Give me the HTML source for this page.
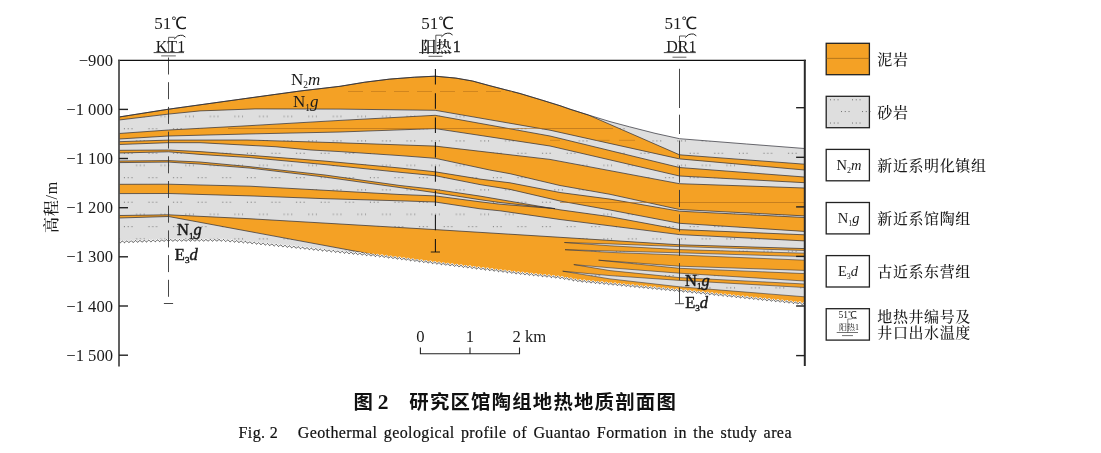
<!DOCTYPE html>
<html lang="zh"><head><meta charset="utf-8"><title>图2 研究区馆陶组地热地质剖面图</title>
<style>html,body{margin:0;padding:0;background:#fff}svg{display:block}</style></head>
<body>
<svg width="1101" height="453" viewBox="0 0 1101 453">
<defs>
<pattern id="dots" patternUnits="userSpaceOnUse" x="0" y="0" width="24.60" height="24.48">
<rect x="13.20" y="18.11" width="0.85" height="0.85" fill="#444"/><rect x="17.00" y="18.11" width="0.85" height="0.85" fill="#444"/><rect x="20.80" y="18.11" width="0.85" height="0.85" fill="#444"/>
<rect x="0.90" y="5.87" width="0.85" height="0.85" fill="#444"/><rect x="4.70" y="5.87" width="0.85" height="0.85" fill="#444"/><rect x="8.50" y="5.87" width="0.85" height="0.85" fill="#444"/>
<rect x="-11.40" y="18.11" width="0.85" height="0.85" fill="#444"/><rect x="-7.60" y="18.11" width="0.85" height="0.85" fill="#444"/><rect x="-3.80" y="18.11" width="0.85" height="0.85" fill="#444"/>
<rect x="-23.70" y="5.87" width="0.85" height="0.85" fill="#444"/><rect x="-19.90" y="5.87" width="0.85" height="0.85" fill="#444"/><rect x="-16.10" y="5.87" width="0.85" height="0.85" fill="#444"/>
<rect x="37.80" y="18.11" width="0.85" height="0.85" fill="#444"/><rect x="41.60" y="18.11" width="0.85" height="0.85" fill="#444"/><rect x="45.40" y="18.11" width="0.85" height="0.85" fill="#444"/>
<rect x="25.50" y="5.87" width="0.85" height="0.85" fill="#444"/><rect x="29.30" y="5.87" width="0.85" height="0.85" fill="#444"/><rect x="33.10" y="5.87" width="0.85" height="0.85" fill="#444"/>
</pattern>
<clipPath id="plotclip"><rect x="119.0" y="60" width="685.9" height="300"/></clipPath>
</defs>
<rect width="1101" height="453" fill="#fff"/>
<g clip-path="url(#plotclip)">
<polygon points="119.0,117.0 168.5,109.2 247.0,98.3 300.0,91.0 340.0,86.3 364.8,82.2 389.7,79.1 414.5,77.2 435.2,76.2 455.9,78.1 472.5,81.0 489.0,85.5 505.6,89.8 520.0,93.5 541.6,100.0 560.0,105.7 570.0,109.2 588.4,115.0 610.0,121.6 629.5,126.8 655.0,133.3 679.5,138.7 746.6,144.0 804.6,148.5 804.6,303.8 679.5,290.7 580.0,281.0 560.0,277.6 516.6,273.0 435.0,263.0 384.0,256.5 331.0,251.0 287.0,246.4 247.0,242.3 222.0,240.3 168.5,240.4 119.0,242.0" fill="#DEDEDE"/>
<polygon points="119.0,117.0 168.5,109.2 247.0,98.3 300.0,91.0 340.0,86.3 364.8,82.2 389.7,79.1 414.5,77.2 435.2,76.2 455.9,78.1 472.5,81.0 489.0,85.5 505.6,89.8 520.0,93.5 541.6,100.0 560.0,105.7 570.0,109.2 588.4,115.0 610.0,121.6 629.5,126.8 655.0,133.3 679.5,138.7 746.6,144.0 804.6,148.5 804.6,303.8 679.5,290.7 580.0,281.0 560.0,277.6 516.6,273.0 435.0,263.0 384.0,256.5 331.0,251.0 287.0,246.4 247.0,242.3 222.0,240.3 168.5,240.4 119.0,242.0" fill="url(#dots)"/>
<polygon points="119.0,117.0 168.5,109.2 247.0,98.3 300.0,91.0 340.0,86.3 364.8,82.2 389.7,79.1 414.5,77.2 435.2,76.2 455.9,78.1 472.5,81.0 489.0,85.5 505.6,89.8 520.0,93.5 541.6,100.0 560.0,105.7 570.0,109.2 588.4,115.0 679.5,154.8 804.6,164.2 804.6,170.0 679.5,158.9 550.0,130.2 435.2,110.3 340.0,109.1 255.0,108.9 200.0,110.9 168.5,114.1 119.0,120.0" fill="#F4A125" stroke="#2b2b33" stroke-width="0.7" stroke-linejoin="round"/>
<polygon points="119.0,133.5 168.5,130.0 247.0,125.8 340.0,120.4 435.2,115.3 550.0,136.0 679.5,167.5 804.6,177.0 804.6,182.7 679.5,176.0 550.0,146.0 435.2,128.6 340.0,132.0 247.0,134.0 168.5,136.0 119.0,139.0" fill="#F4A125" stroke="#2b2b33" stroke-width="0.7" stroke-linejoin="round"/>
<polygon points="119.0,141.7 168.5,140.1 247.0,140.0 340.0,142.8 435.2,146.1 550.0,159.4 679.5,183.7 804.6,188.0 804.6,215.9 679.5,209.5 610.0,194.3 560.0,185.5 510.0,173.7 489.7,170.0 435.2,158.3 400.0,155.6 340.0,151.6 311.0,150.0 275.0,146.7 200.0,142.7 168.5,142.7 119.0,144.5" fill="#F4A125" stroke="#2b2b33" stroke-width="0.7" stroke-linejoin="round"/>
<polygon points="119.0,150.3 168.5,150.0 200.0,151.6 250.0,155.3 325.0,161.1 400.0,168.0 435.2,171.8 480.0,179.1 510.0,182.8 560.0,192.5 610.0,199.1 679.5,211.2 804.6,217.5 804.6,231.4 679.5,223.3 610.0,210.0 560.0,201.0 510.0,189.4 480.0,184.6 435.2,175.7 400.0,172.3 325.0,164.6 250.0,157.6 200.0,154.4 168.5,151.8 119.0,153.0" fill="#F4A125" stroke="#2b2b33" stroke-width="0.7" stroke-linejoin="round"/>
<polygon points="119.0,161.0 168.5,160.6 200.0,162.0 250.0,166.7 325.0,175.0 400.0,185.5 435.2,189.4 480.0,196.1 560.0,209.8 610.0,216.7 679.5,229.6 804.6,234.8 804.6,240.9 679.5,234.6 560.0,219.5 500.0,210.8 480.0,208.8 435.2,202.0 400.0,200.8 325.0,198.7 250.0,195.9 168.5,193.5 119.0,193.6" fill="#F4A125" stroke="#2b2b33" stroke-width="0.7" stroke-linejoin="round"/>
<polygon points="119.0,162.6 168.5,162.1 200.0,164.1 250.0,168.1 325.0,177.1 400.0,187.6 435.2,192.7 480.0,199.7 500.0,202.5 555.0,208.6 555.0,208.6 500.0,204.2 480.0,201.8 435.2,195.9 400.0,194.5 325.0,190.3 250.0,186.2 168.5,184.2 119.0,184.3" fill="#DEDEDE" stroke="#2b2b33" stroke-width="0.7" stroke-linejoin="round"/>
<polygon points="119.0,162.6 168.5,162.1 200.0,164.1 250.0,168.1 325.0,177.1 400.0,187.6 435.2,192.7 480.0,199.7 500.0,202.5 555.0,208.6 555.0,208.6 500.0,204.2 480.0,201.8 435.2,195.9 400.0,194.5 325.0,190.3 250.0,186.2 168.5,184.2 119.0,184.3" fill="url(#dots)"/>
<polygon points="119.0,215.5 168.5,214.8 247.0,218.6 340.0,224.0 435.2,229.6 560.0,237.3 679.5,244.8 804.6,248.6 804.6,303.8 679.5,290.7 580.0,281.0 560.0,277.6 516.6,273.0 435.0,263.0 384.0,256.5 383.0,256.3 168.5,216.5 119.0,218.0" fill="#F4A125" stroke="#2b2b33" stroke-width="0.7" stroke-linejoin="round"/>
<polygon points="564.4,242.5 610.0,243.9 679.5,246.6 804.6,250.5 804.6,253.2 679.5,249.6 610.0,245.8 564.4,242.5" fill="#DEDEDE" stroke="#2b2b33" stroke-width="0.55" stroke-linejoin="round"/>
<polygon points="564.4,242.5 610.0,243.9 679.5,246.6 804.6,250.5 804.6,253.2 679.5,249.6 610.0,245.8 564.4,242.5" fill="url(#dots)"/>
<polygon points="565.0,249.7 610.0,251.0 679.5,252.8 804.6,256.6 804.6,260.2 679.5,255.0 610.0,252.4 565.0,249.7" fill="#DEDEDE" stroke="#2b2b33" stroke-width="0.55" stroke-linejoin="round"/>
<polygon points="565.0,249.7 610.0,251.0 679.5,252.8 804.6,256.6 804.6,260.2 679.5,255.0 610.0,252.4 565.0,249.7" fill="url(#dots)"/>
<polygon points="598.6,260.2 679.5,266.2 804.6,270.4 804.6,273.6 679.5,268.3 598.6,260.2" fill="#DEDEDE" stroke="#2b2b33" stroke-width="0.55" stroke-linejoin="round"/>
<polygon points="598.6,260.2 679.5,266.2 804.6,270.4 804.6,273.6 679.5,268.3 598.6,260.2" fill="url(#dots)"/>
<polygon points="573.8,264.6 610.0,267.8 679.5,273.2 804.6,281.0 804.6,284.0 679.5,277.6 610.0,270.6 573.8,264.6" fill="#DEDEDE" stroke="#2b2b33" stroke-width="0.55" stroke-linejoin="round"/>
<polygon points="573.8,264.6 610.0,267.8 679.5,273.2 804.6,281.0 804.6,284.0 679.5,277.6 610.0,270.6 573.8,264.6" fill="url(#dots)"/>
<polygon points="562.7,271.2 610.0,275.6 679.5,280.4 804.6,287.5 804.6,296.8 679.5,286.8 610.0,278.9 562.7,271.2" fill="#DEDEDE" stroke="#2b2b33" stroke-width="0.55" stroke-linejoin="round"/>
<polygon points="562.7,271.2 610.0,275.6 679.5,280.4 804.6,287.5 804.6,296.8 679.5,286.8 610.0,278.9 562.7,271.2" fill="url(#dots)"/>
<polyline points="119.0,117.0 168.5,109.2 247.0,98.3 300.0,91.0 340.0,86.3 364.8,82.2 389.7,79.1 414.5,77.2 435.2,76.2 455.9,78.1 472.5,81.0 489.0,85.5 505.6,89.8 520.0,93.5 541.6,100.0 560.0,105.7 570.0,109.2 588.4,115.0 610.0,121.6 629.5,126.8 655.0,133.3 679.5,138.7 746.6,144.0 804.6,148.5" fill="none" stroke="#2b2b33" stroke-width="0.7" stroke-linejoin="round"/>
<polyline points="119.0,242.0 119.6,242.6 120.1,242.9 120.7,242.6 121.2,241.9 121.8,241.3 122.3,241.0 122.9,241.2 123.4,241.9 124.0,242.5 124.5,242.7 125.1,242.4 125.6,241.8 126.2,241.1 126.7,240.9 127.3,241.1 127.8,241.7 128.4,242.3 128.9,242.6 129.5,242.3 130.0,241.6 130.6,241.0 131.1,240.7 131.7,241.0 132.2,241.6 132.8,242.2 133.3,242.4 133.9,242.2 134.4,241.5 135.0,240.8 135.5,240.6 136.1,240.8 136.6,241.4 137.2,242.1 137.7,242.3 138.3,242.0 138.8,241.3 139.4,240.7 139.9,240.4 140.5,240.7 141.0,241.3 141.6,241.9 142.1,242.2 142.7,241.9 143.2,241.2 143.8,240.6 144.3,240.3 144.9,240.5 145.4,241.2 146.0,241.8 146.5,242.0 147.1,241.7 147.6,241.1 148.2,240.4 148.7,240.1 149.3,240.4 149.8,241.0 150.4,241.6 150.9,241.9 151.5,241.6 152.0,240.9 152.6,240.3 153.1,240.0 153.7,240.3 154.2,240.9 154.8,241.5 155.3,241.7 155.9,241.4 156.4,240.8 157.0,240.1 157.5,239.9 158.1,240.1 158.6,240.7 159.2,241.4 159.7,241.6 160.3,241.3 160.8,240.6 161.4,240.0 161.9,239.7 162.5,240.0 163.0,240.6 163.6,241.2 164.1,241.4 164.7,241.1 165.2,240.5 165.8,239.8 166.3,239.6 166.9,239.8 167.4,240.5 168.0,241.1 168.5,241.3 169.1,241.0 169.6,240.4 170.2,239.7 170.7,239.5 171.3,239.8 171.8,240.4 172.4,241.1 172.9,241.3 173.5,241.0 174.0,240.4 174.6,239.7 175.1,239.5 175.7,239.8 176.2,240.4 176.8,241.0 177.3,241.3 177.9,241.0 178.4,240.3 179.0,239.7 179.5,239.5 180.1,239.8 180.6,240.4 181.2,241.0 181.7,241.3 182.3,241.0 182.8,240.3 183.4,239.7 183.9,239.5 184.5,239.8 185.0,240.4 185.6,241.0 186.1,241.3 186.7,241.0 187.2,240.3 187.8,239.7 188.3,239.5 188.9,239.8 189.4,240.4 190.0,241.0 190.5,241.3 191.1,241.0 191.6,240.3 192.2,239.7 192.7,239.5 193.3,239.7 193.8,240.4 194.4,241.0 194.9,241.2 195.5,241.0 196.0,240.3 196.6,239.7 197.1,239.4 197.7,239.7 198.2,240.4 198.8,241.0 199.3,241.2 199.9,240.9 200.4,240.3 201.0,239.7 201.5,239.4 202.1,239.7 202.6,240.4 203.2,241.0 203.7,241.2 204.3,240.9 204.8,240.3 205.4,239.7 205.9,239.4 206.5,239.7 207.0,240.4 207.6,241.0 208.1,241.2 208.7,240.9 209.2,240.3 209.8,239.7 210.3,239.4 210.9,239.7 211.4,240.4 212.0,241.0 212.5,241.2 213.1,240.9 213.6,240.3 214.2,239.6 214.7,239.4 215.3,239.7 215.8,240.4 216.4,241.0 216.9,241.2 217.5,240.9 218.0,240.3 218.6,239.6 219.1,239.4 219.7,239.7 220.2,240.4 220.8,241.0 221.3,241.2 221.9,240.9 222.4,240.3 223.0,239.7 223.5,239.5 224.1,239.9 224.6,240.6 225.2,241.2 225.7,241.5 226.3,241.2 226.8,240.6 227.4,240.1 227.9,239.9 228.5,240.2 229.0,240.9 229.6,241.6 230.1,241.8 230.7,241.6 231.2,241.0 231.8,240.4 232.3,240.2 232.9,240.6 233.5,241.3 234.0,241.9 234.6,242.2 235.1,241.9 235.7,241.3 236.2,240.8 236.8,240.6 237.3,240.9 237.9,241.6 238.4,242.3 239.0,242.6 239.5,242.3 240.1,241.7 240.6,241.1 241.2,240.9 241.7,241.3 242.3,242.0 242.8,242.6 243.4,242.9 243.9,242.6 244.5,242.0 245.0,241.5 245.6,241.3 246.1,241.6 246.7,242.3 247.2,243.0 247.8,243.3 248.3,243.0 248.9,242.4 249.4,241.9 250.0,241.7 250.5,242.1 251.1,242.8 251.6,243.5 252.2,243.7 252.7,243.5 253.3,242.9 253.8,242.3 254.4,242.2 254.9,242.5 255.5,243.2 256.0,243.9 256.6,244.2 257.1,243.9 257.7,243.3 258.2,242.8 258.8,242.6 259.3,243.0 259.9,243.7 260.4,244.4 261.0,244.6 261.5,244.4 262.1,243.8 262.6,243.2 263.2,243.1 263.7,243.4 264.3,244.2 264.8,244.8 265.4,245.1 265.9,244.8 266.5,244.2 267.0,243.7 267.6,243.5 268.1,243.9 268.7,244.6 269.2,245.3 269.8,245.5 270.3,245.3 270.9,244.7 271.4,244.1 272.0,244.0 272.5,244.3 273.1,245.1 273.6,245.7 274.2,246.0 274.7,245.7 275.3,245.1 275.8,244.6 276.4,244.4 276.9,244.8 277.5,245.5 278.0,246.2 278.6,246.4 279.1,246.2 279.7,245.6 280.2,245.0 280.8,244.9 281.3,245.2 281.9,246.0 282.4,246.6 283.0,246.9 283.5,246.6 284.1,246.0 284.6,245.5 285.2,245.3 285.7,245.7 286.3,246.4 286.8,247.1 287.4,247.3 287.9,247.1 288.5,246.5 289.0,245.9 289.6,245.8 290.1,246.2 290.7,246.9 291.2,247.5 291.8,247.8 292.3,247.5 292.9,246.9 293.4,246.4 294.0,246.2 294.5,246.6 295.1,247.3 295.6,248.0 296.2,248.3 296.7,248.0 297.3,247.4 297.8,246.8 298.4,246.7 298.9,247.1 299.5,247.8 300.0,248.5 300.6,248.7 301.1,248.4 301.7,247.8 302.2,247.3 302.8,247.2 303.3,247.5 303.9,248.3 304.4,248.9 305.0,249.2 305.5,248.9 306.1,248.3 306.6,247.7 307.2,247.6 307.7,248.0 308.3,248.7 308.8,249.4 309.4,249.6 309.9,249.4 310.5,248.7 311.0,248.2 311.6,248.1 312.1,248.5 312.7,249.2 313.2,249.9 313.8,250.1 314.3,249.8 314.9,249.2 315.4,248.7 316.0,248.5 316.5,248.9 317.1,249.7 317.6,250.3 318.2,250.6 318.7,250.3 319.3,249.7 319.8,249.1 320.4,249.0 320.9,249.4 321.5,250.1 322.0,250.8 322.6,251.0 323.1,250.7 323.7,250.1 324.2,249.6 324.8,249.5 325.3,249.9 325.9,250.6 326.4,251.2 327.0,251.5 327.5,251.2 328.1,250.6 328.6,250.0 329.2,249.9 329.7,250.3 330.3,251.0 330.8,251.7 331.4,251.9 331.9,251.6 332.5,251.0 333.0,250.5 333.6,250.4 334.1,250.8 334.7,251.5 335.2,252.2 335.8,252.4 336.3,252.1 336.9,251.5 337.4,251.0 338.0,250.8 338.5,251.2 339.1,252.0 339.6,252.6 340.2,252.8 340.7,252.6 341.3,251.9 341.8,251.4 342.4,251.3 342.9,251.7 343.5,252.4 344.0,253.1 344.6,253.3 345.1,253.0 345.7,252.4 346.2,251.9 346.8,251.7 347.3,252.2 347.9,252.9 348.5,253.5 349.0,253.8 349.6,253.5 350.1,252.9 350.7,252.3 351.2,252.2 351.8,252.6 352.3,253.3 352.9,254.0 353.4,254.2 354.0,253.9 354.5,253.3 355.1,252.8 355.6,252.7 356.2,253.1 356.7,253.8 357.3,254.4 357.8,254.7 358.4,254.4 358.9,253.8 359.5,253.2 360.0,253.1 360.6,253.5 361.1,254.3 361.7,254.9 362.2,255.1 362.8,254.8 363.3,254.2 363.9,253.7 364.4,253.6 365.0,254.0 365.5,254.7 366.1,255.4 366.6,255.6 367.2,255.3 367.7,254.7 368.3,254.1 368.8,254.0 369.4,254.5 369.9,255.2 370.5,255.8 371.0,256.0 371.6,255.7 372.1,255.1 372.7,254.6 373.2,254.5 373.8,254.9 374.3,255.6 374.9,256.3 375.4,256.5 376.0,256.2 376.5,255.6 377.1,255.0 377.6,254.9 378.2,255.4 378.7,256.1 379.3,256.7 379.8,257.0 380.4,256.6 380.9,256.0 381.5,255.5 382.0,255.4 382.6,255.8 383.1,256.6 383.7,257.2 384.2,257.4 384.8,257.1 385.3,256.5 385.9,256.0 386.4,255.9 387.0,256.4 387.5,257.1 388.1,257.8 388.6,258.0 389.2,257.7 389.7,257.1 390.3,256.6 390.8,256.5 391.4,256.9 391.9,257.7 392.5,258.3 393.0,258.5 393.6,258.2 394.1,257.6 394.7,257.1 395.2,257.0 395.8,257.5 396.3,258.2 396.9,258.9 397.4,259.1 398.0,258.8 398.5,258.2 399.1,257.7 399.6,257.6 400.2,258.0 400.7,258.8 401.3,259.4 401.8,259.7 402.4,259.4 402.9,258.8 403.5,258.2 404.0,258.2 404.6,258.6 405.1,259.4 405.7,260.0 406.2,260.2 406.8,259.9 407.3,259.3 407.9,258.8 408.4,258.7 409.0,259.2 409.5,259.9 410.1,260.6 410.6,260.8 411.2,260.5 411.7,259.9 412.3,259.4 412.8,259.3 413.4,259.7 413.9,260.5 414.5,261.1 415.0,261.3 415.6,261.0 416.1,260.4 416.7,259.9 417.2,259.9 417.8,260.3 418.3,261.0 418.9,261.7 419.4,261.9 420.0,261.6 420.5,261.0 421.1,260.5 421.6,260.4 422.2,260.9 422.7,261.6 423.3,262.3 423.8,262.5 424.4,262.2 424.9,261.5 425.5,261.0 426.0,261.0 426.6,261.4 427.1,262.2 427.7,262.8 428.2,263.0 428.8,262.7 429.3,262.1 429.9,261.6 430.4,261.5 431.0,262.0 431.5,262.7 432.1,263.4 432.6,263.6 433.2,263.3 433.7,262.7 434.3,262.2 434.8,262.1 435.4,262.5 435.9,263.3 436.5,263.9 437.0,264.1 437.6,263.8 438.1,263.2 438.7,262.7 439.2,262.6 439.8,263.1 440.3,263.8 440.9,264.5 441.4,264.7 442.0,264.4 442.5,263.7 443.1,263.2 443.6,263.2 444.2,263.6 444.7,264.4 445.3,265.0 445.8,265.2 446.4,264.9 446.9,264.3 447.5,263.8 448.0,263.7 448.6,264.2 449.1,264.9 449.7,265.6 450.2,265.7 450.8,265.4 451.3,264.8 451.9,264.3 452.4,264.3 453.0,264.7 453.5,265.5 454.1,266.1 454.6,266.3 455.2,266.0 455.7,265.4 456.3,264.9 456.8,264.8 457.4,265.3 457.9,266.0 458.5,266.6 459.0,266.8 459.6,266.5 460.1,265.9 460.7,265.4 461.2,265.3 461.8,265.8 462.4,266.5 462.9,267.2 463.5,267.4 464.0,267.0 464.6,266.4 465.1,265.9 465.7,265.9 466.2,266.3 466.8,267.1 467.3,267.7 467.9,267.9 468.4,267.6 469.0,267.0 469.5,266.5 470.1,266.4 470.6,266.9 471.2,267.6 471.7,268.3 472.3,268.4 472.8,268.1 473.4,267.5 473.9,267.0 474.5,267.0 475.0,267.4 475.6,268.2 476.1,268.8 476.7,269.0 477.2,268.7 477.8,268.0 478.3,267.5 478.9,267.5 479.4,268.0 480.0,268.7 480.5,269.3 481.1,269.5 481.6,269.2 482.2,268.6 482.7,268.1 483.3,268.0 483.8,268.5 484.4,269.3 484.9,269.9 485.5,270.1 486.0,269.7 486.6,269.1 487.1,268.6 487.7,268.6 488.2,269.0 488.8,269.8 489.3,270.4 489.9,270.6 490.4,270.3 491.0,269.7 491.5,269.2 492.1,269.1 492.6,269.6 493.2,270.3 493.7,271.0 494.3,271.1 494.8,270.8 495.4,270.2 495.9,269.7 496.5,269.7 497.0,270.1 497.6,270.9 498.1,271.5 498.7,271.7 499.2,271.3 499.8,270.7 500.3,270.2 500.9,270.2 501.4,270.7 502.0,271.4 502.5,272.0 503.1,272.2 503.6,271.9 504.2,271.3 504.7,270.8 505.3,270.7 505.8,271.2 506.4,272.0 506.9,272.6 507.5,272.8 508.0,272.4 508.6,271.8 509.1,271.3 509.7,271.3 510.2,271.8 510.8,272.5 511.3,273.1 511.9,273.3 512.4,273.0 513.0,272.3 513.5,271.9 514.1,271.8 514.6,272.3 515.2,273.0 515.7,273.7 516.3,273.8 516.8,273.5 517.4,272.9 517.9,272.4 518.5,272.3 519.0,272.8 519.6,273.5 520.1,274.1 520.7,274.3 521.2,273.9 521.8,273.3 522.3,272.8 522.9,272.8 523.4,273.3 524.0,274.0 524.5,274.6 525.1,274.8 525.6,274.4 526.2,273.8 526.7,273.3 527.3,273.3 527.8,273.7 528.4,274.5 528.9,275.1 529.5,275.2 530.0,274.9 530.6,274.3 531.1,273.8 531.7,273.7 532.2,274.2 532.8,274.9 533.3,275.6 533.9,275.7 534.4,275.3 535.0,274.7 535.5,274.2 536.1,274.2 536.6,274.7 537.2,275.4 537.7,276.0 538.3,276.2 538.8,275.8 539.4,275.2 539.9,274.7 540.5,274.7 541.0,275.1 541.6,275.9 542.1,276.5 542.7,276.6 543.2,276.3 543.8,275.6 544.3,275.2 544.9,275.1 545.4,275.6 546.0,276.4 546.5,277.0 547.1,277.1 547.6,276.7 548.2,276.1 548.7,275.6 549.3,275.6 549.8,276.1 550.4,276.8 550.9,277.4 551.5,277.6 552.0,277.2 552.6,276.6 553.1,276.1 553.7,276.1 554.2,276.5 554.8,277.3 555.3,277.9 555.9,278.0 556.4,277.7 557.0,277.0 557.5,276.6 558.1,276.5 558.6,277.0 559.2,277.8 559.7,278.4 560.3,278.5 560.8,278.2 561.4,277.6 561.9,277.1 562.5,277.2 563.0,277.7 563.6,278.5 564.1,279.1 564.7,279.3 565.2,278.9 565.8,278.3 566.3,277.9 566.9,277.9 567.4,278.4 568.0,279.2 568.5,279.8 569.1,280.0 569.6,279.7 570.2,279.1 570.7,278.6 571.3,278.7 571.8,279.2 572.4,280.0 572.9,280.6 573.5,280.8 574.0,280.4 574.6,279.8 575.1,279.4 575.7,279.4 576.3,279.9 576.8,280.7 577.4,281.3 577.9,281.5 578.5,281.2 579.0,280.6 579.6,280.1 580.1,280.1 580.7,280.6 581.2,281.4 581.8,282.0 582.3,282.1 582.9,281.7 583.4,281.1 584.0,280.6 584.5,280.6 585.1,281.1 585.6,281.8 586.2,282.4 586.7,282.5 587.3,282.1 587.8,281.5 588.4,281.0 588.9,281.0 589.5,281.5 590.0,282.2 590.6,282.8 591.1,282.9 591.7,282.6 592.2,281.9 592.8,281.4 593.3,281.4 593.9,281.9 594.4,282.7 595.0,283.3 595.5,283.4 596.1,283.0 596.6,282.4 597.2,281.9 597.7,281.9 598.3,282.4 598.8,283.1 599.4,283.7 599.9,283.8 600.5,283.4 601.0,282.8 601.6,282.3 602.1,282.3 602.7,282.8 603.2,283.5 603.8,284.1 604.3,284.2 604.9,283.8 605.4,283.2 606.0,282.7 606.5,282.7 607.1,283.2 607.6,284.0 608.2,284.5 608.7,284.7 609.3,284.3 609.8,283.6 610.4,283.2 610.9,283.2 611.5,283.7 612.0,284.4 612.6,285.0 613.1,285.1 613.7,284.7 614.2,284.1 614.8,283.6 615.3,283.6 615.9,284.1 616.4,284.8 617.0,285.4 617.5,285.5 618.1,285.1 618.6,284.5 619.2,284.0 619.7,284.0 620.3,284.5 620.8,285.3 621.4,285.8 621.9,285.9 622.5,285.5 623.0,284.9 623.6,284.4 624.1,284.4 624.7,284.9 625.2,285.7 625.8,286.3 626.3,286.4 626.9,286.0 627.4,285.3 628.0,284.9 628.5,284.9 629.1,285.4 629.6,286.1 630.2,286.7 630.7,286.8 631.3,286.4 631.8,285.8 632.4,285.3 632.9,285.3 633.5,285.8 634.0,286.6 634.6,287.1 635.1,287.2 635.7,286.8 636.2,286.2 636.8,285.7 637.3,285.7 637.9,286.2 638.4,287.0 639.0,287.6 639.5,287.7 640.1,287.3 640.6,286.6 641.2,286.2 641.7,286.2 642.3,286.7 642.8,287.4 643.4,288.0 643.9,288.1 644.5,287.7 645.0,287.0 645.6,286.6 646.1,286.6 646.7,287.1 647.2,287.8 647.8,288.4 648.3,288.5 648.9,288.1 649.4,287.5 650.0,287.0 650.5,287.0 651.1,287.5 651.6,288.3 652.2,288.8 652.7,288.9 653.3,288.5 653.8,287.9 654.4,287.4 654.9,287.5 655.5,288.0 656.0,288.7 656.6,289.3 657.1,289.4 657.7,289.0 658.2,288.3 658.8,287.9 659.3,287.9 659.9,288.4 660.4,289.1 661.0,289.7 661.5,289.8 662.1,289.4 662.6,288.8 663.2,288.3 663.7,288.3 664.3,288.8 664.8,289.6 665.4,290.1 665.9,290.2 666.5,289.8 667.0,289.2 667.6,288.7 668.1,288.7 668.7,289.3 669.2,290.0 669.8,290.6 670.3,290.7 670.9,290.2 671.4,289.6 672.0,289.2 672.5,289.2 673.1,289.7 673.6,290.4 674.2,291.0 674.7,291.1 675.3,290.7 675.8,290.0 676.4,289.6 676.9,289.6 677.5,290.1 678.0,290.9 678.6,291.4 679.1,291.5 679.7,291.1 680.2,290.5 680.8,290.0 681.3,290.0 681.9,290.6 682.4,291.3 683.0,291.9 683.5,292.0 684.1,291.6 684.6,290.9 685.2,290.5 685.7,290.5 686.3,291.0 686.8,291.8 687.4,292.3 687.9,292.4 688.5,292.0 689.0,291.4 689.6,290.9 690.1,291.0 690.7,291.5 691.3,292.2 691.8,292.8 692.4,292.9 692.9,292.5 693.5,291.8 694.0,291.4 694.6,291.4 695.1,292.0 695.7,292.7 696.2,293.3 696.8,293.3 697.3,292.9 697.9,292.3 698.4,291.9 699.0,291.9 699.5,292.4 700.1,293.2 700.6,293.7 701.2,293.8 701.7,293.4 702.3,292.8 702.8,292.3 703.4,292.4 703.9,292.9 704.5,293.6 705.0,294.2 705.6,294.3 706.1,293.9 706.7,293.2 707.2,292.8 707.8,292.8 708.3,293.4 708.9,294.1 709.4,294.7 710.0,294.7 710.5,294.3 711.1,293.7 711.6,293.2 712.2,293.3 712.7,293.8 713.3,294.6 713.8,295.1 714.4,295.2 714.9,294.8 715.5,294.1 716.0,293.7 716.6,293.7 717.1,294.3 717.7,295.0 718.2,295.6 718.8,295.6 719.3,295.2 719.9,294.6 720.4,294.2 721.0,294.2 721.5,294.7 722.1,295.5 722.6,296.0 723.2,296.1 723.7,295.7 724.3,295.1 724.8,294.6 725.4,294.7 725.9,295.2 726.5,296.0 727.0,296.5 727.6,296.6 728.1,296.1 728.7,295.5 729.2,295.1 729.8,295.1 730.3,295.7 730.9,296.4 731.4,297.0 732.0,297.0 732.5,296.6 733.1,296.0 733.6,295.5 734.2,295.6 734.7,296.1 735.3,296.9 735.8,297.4 736.4,297.5 736.9,297.1 737.5,296.4 738.0,296.0 738.6,296.1 739.1,296.6 739.7,297.3 740.2,297.9 740.8,297.9 741.3,297.5 741.9,296.9 742.4,296.5 743.0,296.5 743.5,297.1 744.1,297.8 744.6,298.4 745.2,298.4 745.7,298.0 746.3,297.3 746.8,296.9 747.4,297.0 747.9,297.5 748.5,298.3 749.0,298.8 749.6,298.9 750.1,298.4 750.7,297.8 751.2,297.4 751.8,297.4 752.3,298.0 752.9,298.7 753.4,299.3 754.0,299.3 754.5,298.9 755.1,298.3 755.6,297.8 756.2,297.9 756.7,298.4 757.3,299.2 757.8,299.7 758.4,299.8 758.9,299.4 759.5,298.7 760.0,298.3 760.6,298.4 761.1,298.9 761.7,299.7 762.2,300.2 762.8,300.2 763.3,299.8 763.9,299.2 764.4,298.8 765.0,298.8 765.5,299.4 766.1,300.1 766.6,300.7 767.2,300.7 767.7,300.3 768.3,299.6 768.8,299.2 769.4,299.3 769.9,299.8 770.5,300.6 771.0,301.1 771.6,301.2 772.1,300.7 772.7,300.1 773.2,299.7 773.8,299.7 774.3,300.3 774.9,301.0 775.4,301.6 776.0,301.6 776.5,301.2 777.1,300.6 777.6,300.1 778.2,300.2 778.7,300.8 779.3,301.5 779.8,302.0 780.4,302.1 780.9,301.6 781.5,301.0 782.0,300.6 782.6,300.7 783.1,301.2 783.7,302.0 784.2,302.5 784.8,302.5 785.3,302.1 785.9,301.5 786.4,301.1 787.0,301.1 787.5,301.7 788.1,302.4 788.6,303.0 789.2,303.0 789.7,302.6 790.3,301.9 790.8,301.5 791.4,301.6 791.9,302.2 792.5,302.9 793.0,303.4 793.6,303.5 794.1,303.0 794.7,302.4 795.2,302.0 795.8,302.1 796.3,302.6 796.9,303.4 797.4,303.9 798.0,303.9 798.5,303.5 799.1,302.9 799.6,302.4 800.2,302.5 800.7,303.1 801.3,303.8 801.8,304.4 802.4,304.4 802.9,303.9 803.5,303.3 804.0,302.9 804.6,303.0" fill="none" stroke="#fff" stroke-width="2"/>
<polyline points="119.0,242.0 119.6,242.6 120.1,242.9 120.7,242.6 121.2,241.9 121.8,241.3 122.3,241.0 122.9,241.2 123.4,241.9 124.0,242.5 124.5,242.7 125.1,242.4 125.6,241.8 126.2,241.1 126.7,240.9 127.3,241.1 127.8,241.7 128.4,242.3 128.9,242.6 129.5,242.3 130.0,241.6 130.6,241.0 131.1,240.7 131.7,241.0 132.2,241.6 132.8,242.2 133.3,242.4 133.9,242.2 134.4,241.5 135.0,240.8 135.5,240.6 136.1,240.8 136.6,241.4 137.2,242.1 137.7,242.3 138.3,242.0 138.8,241.3 139.4,240.7 139.9,240.4 140.5,240.7 141.0,241.3 141.6,241.9 142.1,242.2 142.7,241.9 143.2,241.2 143.8,240.6 144.3,240.3 144.9,240.5 145.4,241.2 146.0,241.8 146.5,242.0 147.1,241.7 147.6,241.1 148.2,240.4 148.7,240.1 149.3,240.4 149.8,241.0 150.4,241.6 150.9,241.9 151.5,241.6 152.0,240.9 152.6,240.3 153.1,240.0 153.7,240.3 154.2,240.9 154.8,241.5 155.3,241.7 155.9,241.4 156.4,240.8 157.0,240.1 157.5,239.9 158.1,240.1 158.6,240.7 159.2,241.4 159.7,241.6 160.3,241.3 160.8,240.6 161.4,240.0 161.9,239.7 162.5,240.0 163.0,240.6 163.6,241.2 164.1,241.4 164.7,241.1 165.2,240.5 165.8,239.8 166.3,239.6 166.9,239.8 167.4,240.5 168.0,241.1 168.5,241.3 169.1,241.0 169.6,240.4 170.2,239.7 170.7,239.5 171.3,239.8 171.8,240.4 172.4,241.1 172.9,241.3 173.5,241.0 174.0,240.4 174.6,239.7 175.1,239.5 175.7,239.8 176.2,240.4 176.8,241.0 177.3,241.3 177.9,241.0 178.4,240.3 179.0,239.7 179.5,239.5 180.1,239.8 180.6,240.4 181.2,241.0 181.7,241.3 182.3,241.0 182.8,240.3 183.4,239.7 183.9,239.5 184.5,239.8 185.0,240.4 185.6,241.0 186.1,241.3 186.7,241.0 187.2,240.3 187.8,239.7 188.3,239.5 188.9,239.8 189.4,240.4 190.0,241.0 190.5,241.3 191.1,241.0 191.6,240.3 192.2,239.7 192.7,239.5 193.3,239.7 193.8,240.4 194.4,241.0 194.9,241.2 195.5,241.0 196.0,240.3 196.6,239.7 197.1,239.4 197.7,239.7 198.2,240.4 198.8,241.0 199.3,241.2 199.9,240.9 200.4,240.3 201.0,239.7 201.5,239.4 202.1,239.7 202.6,240.4 203.2,241.0 203.7,241.2 204.3,240.9 204.8,240.3 205.4,239.7 205.9,239.4 206.5,239.7 207.0,240.4 207.6,241.0 208.1,241.2 208.7,240.9 209.2,240.3 209.8,239.7 210.3,239.4 210.9,239.7 211.4,240.4 212.0,241.0 212.5,241.2 213.1,240.9 213.6,240.3 214.2,239.6 214.7,239.4 215.3,239.7 215.8,240.4 216.4,241.0 216.9,241.2 217.5,240.9 218.0,240.3 218.6,239.6 219.1,239.4 219.7,239.7 220.2,240.4 220.8,241.0 221.3,241.2 221.9,240.9 222.4,240.3 223.0,239.7 223.5,239.5 224.1,239.9 224.6,240.6 225.2,241.2 225.7,241.5 226.3,241.2 226.8,240.6 227.4,240.1 227.9,239.9 228.5,240.2 229.0,240.9 229.6,241.6 230.1,241.8 230.7,241.6 231.2,241.0 231.8,240.4 232.3,240.2 232.9,240.6 233.5,241.3 234.0,241.9 234.6,242.2 235.1,241.9 235.7,241.3 236.2,240.8 236.8,240.6 237.3,240.9 237.9,241.6 238.4,242.3 239.0,242.6 239.5,242.3 240.1,241.7 240.6,241.1 241.2,240.9 241.7,241.3 242.3,242.0 242.8,242.6 243.4,242.9 243.9,242.6 244.5,242.0 245.0,241.5 245.6,241.3 246.1,241.6 246.7,242.3 247.2,243.0 247.8,243.3 248.3,243.0 248.9,242.4 249.4,241.9 250.0,241.7 250.5,242.1 251.1,242.8 251.6,243.5 252.2,243.7 252.7,243.5 253.3,242.9 253.8,242.3 254.4,242.2 254.9,242.5 255.5,243.2 256.0,243.9 256.6,244.2 257.1,243.9 257.7,243.3 258.2,242.8 258.8,242.6 259.3,243.0 259.9,243.7 260.4,244.4 261.0,244.6 261.5,244.4 262.1,243.8 262.6,243.2 263.2,243.1 263.7,243.4 264.3,244.2 264.8,244.8 265.4,245.1 265.9,244.8 266.5,244.2 267.0,243.7 267.6,243.5 268.1,243.9 268.7,244.6 269.2,245.3 269.8,245.5 270.3,245.3 270.9,244.7 271.4,244.1 272.0,244.0 272.5,244.3 273.1,245.1 273.6,245.7 274.2,246.0 274.7,245.7 275.3,245.1 275.8,244.6 276.4,244.4 276.9,244.8 277.5,245.5 278.0,246.2 278.6,246.4 279.1,246.2 279.7,245.6 280.2,245.0 280.8,244.9 281.3,245.2 281.9,246.0 282.4,246.6 283.0,246.9 283.5,246.6 284.1,246.0 284.6,245.5 285.2,245.3 285.7,245.7 286.3,246.4 286.8,247.1 287.4,247.3 287.9,247.1 288.5,246.5 289.0,245.9 289.6,245.8 290.1,246.2 290.7,246.9 291.2,247.5 291.8,247.8 292.3,247.5 292.9,246.9 293.4,246.4 294.0,246.2 294.5,246.6 295.1,247.3 295.6,248.0 296.2,248.3 296.7,248.0 297.3,247.4 297.8,246.8 298.4,246.7 298.9,247.1 299.5,247.8 300.0,248.5 300.6,248.7 301.1,248.4 301.7,247.8 302.2,247.3 302.8,247.2 303.3,247.5 303.9,248.3 304.4,248.9 305.0,249.2 305.5,248.9 306.1,248.3 306.6,247.7 307.2,247.6 307.7,248.0 308.3,248.7 308.8,249.4 309.4,249.6 309.9,249.4 310.5,248.7 311.0,248.2 311.6,248.1 312.1,248.5 312.7,249.2 313.2,249.9 313.8,250.1 314.3,249.8 314.9,249.2 315.4,248.7 316.0,248.5 316.5,248.9 317.1,249.7 317.6,250.3 318.2,250.6 318.7,250.3 319.3,249.7 319.8,249.1 320.4,249.0 320.9,249.4 321.5,250.1 322.0,250.8 322.6,251.0 323.1,250.7 323.7,250.1 324.2,249.6 324.8,249.5 325.3,249.9 325.9,250.6 326.4,251.2 327.0,251.5 327.5,251.2 328.1,250.6 328.6,250.0 329.2,249.9 329.7,250.3 330.3,251.0 330.8,251.7 331.4,251.9 331.9,251.6 332.5,251.0 333.0,250.5 333.6,250.4 334.1,250.8 334.7,251.5 335.2,252.2 335.8,252.4 336.3,252.1 336.9,251.5 337.4,251.0 338.0,250.8 338.5,251.2 339.1,252.0 339.6,252.6 340.2,252.8 340.7,252.6 341.3,251.9 341.8,251.4 342.4,251.3 342.9,251.7 343.5,252.4 344.0,253.1 344.6,253.3 345.1,253.0 345.7,252.4 346.2,251.9 346.8,251.7 347.3,252.2 347.9,252.9 348.5,253.5 349.0,253.8 349.6,253.5 350.1,252.9 350.7,252.3 351.2,252.2 351.8,252.6 352.3,253.3 352.9,254.0 353.4,254.2 354.0,253.9 354.5,253.3 355.1,252.8 355.6,252.7 356.2,253.1 356.7,253.8 357.3,254.4 357.8,254.7 358.4,254.4 358.9,253.8 359.5,253.2 360.0,253.1 360.6,253.5 361.1,254.3 361.7,254.9 362.2,255.1 362.8,254.8 363.3,254.2 363.9,253.7 364.4,253.6 365.0,254.0 365.5,254.7 366.1,255.4 366.6,255.6 367.2,255.3 367.7,254.7 368.3,254.1 368.8,254.0 369.4,254.5 369.9,255.2 370.5,255.8 371.0,256.0 371.6,255.7 372.1,255.1 372.7,254.6 373.2,254.5 373.8,254.9 374.3,255.6 374.9,256.3 375.4,256.5 376.0,256.2 376.5,255.6 377.1,255.0 377.6,254.9 378.2,255.4 378.7,256.1 379.3,256.7 379.8,257.0 380.4,256.6 380.9,256.0 381.5,255.5 382.0,255.4 382.6,255.8 383.1,256.6 383.7,257.2 384.2,257.4 384.8,257.1 385.3,256.5 385.9,256.0 386.4,255.9 387.0,256.4 387.5,257.1 388.1,257.8 388.6,258.0 389.2,257.7 389.7,257.1 390.3,256.6 390.8,256.5 391.4,256.9 391.9,257.7 392.5,258.3 393.0,258.5 393.6,258.2 394.1,257.6 394.7,257.1 395.2,257.0 395.8,257.5 396.3,258.2 396.9,258.9 397.4,259.1 398.0,258.8 398.5,258.2 399.1,257.7 399.6,257.6 400.2,258.0 400.7,258.8 401.3,259.4 401.8,259.7 402.4,259.4 402.9,258.8 403.5,258.2 404.0,258.2 404.6,258.6 405.1,259.4 405.7,260.0 406.2,260.2 406.8,259.9 407.3,259.3 407.9,258.8 408.4,258.7 409.0,259.2 409.5,259.9 410.1,260.6 410.6,260.8 411.2,260.5 411.7,259.9 412.3,259.4 412.8,259.3 413.4,259.7 413.9,260.5 414.5,261.1 415.0,261.3 415.6,261.0 416.1,260.4 416.7,259.9 417.2,259.9 417.8,260.3 418.3,261.0 418.9,261.7 419.4,261.9 420.0,261.6 420.5,261.0 421.1,260.5 421.6,260.4 422.2,260.9 422.7,261.6 423.3,262.3 423.8,262.5 424.4,262.2 424.9,261.5 425.5,261.0 426.0,261.0 426.6,261.4 427.1,262.2 427.7,262.8 428.2,263.0 428.8,262.7 429.3,262.1 429.9,261.6 430.4,261.5 431.0,262.0 431.5,262.7 432.1,263.4 432.6,263.6 433.2,263.3 433.7,262.7 434.3,262.2 434.8,262.1 435.4,262.5 435.9,263.3 436.5,263.9 437.0,264.1 437.6,263.8 438.1,263.2 438.7,262.7 439.2,262.6 439.8,263.1 440.3,263.8 440.9,264.5 441.4,264.7 442.0,264.4 442.5,263.7 443.1,263.2 443.6,263.2 444.2,263.6 444.7,264.4 445.3,265.0 445.8,265.2 446.4,264.9 446.9,264.3 447.5,263.8 448.0,263.7 448.6,264.2 449.1,264.9 449.7,265.6 450.2,265.7 450.8,265.4 451.3,264.8 451.9,264.3 452.4,264.3 453.0,264.7 453.5,265.5 454.1,266.1 454.6,266.3 455.2,266.0 455.7,265.4 456.3,264.9 456.8,264.8 457.4,265.3 457.9,266.0 458.5,266.6 459.0,266.8 459.6,266.5 460.1,265.9 460.7,265.4 461.2,265.3 461.8,265.8 462.4,266.5 462.9,267.2 463.5,267.4 464.0,267.0 464.6,266.4 465.1,265.9 465.7,265.9 466.2,266.3 466.8,267.1 467.3,267.7 467.9,267.9 468.4,267.6 469.0,267.0 469.5,266.5 470.1,266.4 470.6,266.9 471.2,267.6 471.7,268.3 472.3,268.4 472.8,268.1 473.4,267.5 473.9,267.0 474.5,267.0 475.0,267.4 475.6,268.2 476.1,268.8 476.7,269.0 477.2,268.7 477.8,268.0 478.3,267.5 478.9,267.5 479.4,268.0 480.0,268.7 480.5,269.3 481.1,269.5 481.6,269.2 482.2,268.6 482.7,268.1 483.3,268.0 483.8,268.5 484.4,269.3 484.9,269.9 485.5,270.1 486.0,269.7 486.6,269.1 487.1,268.6 487.7,268.6 488.2,269.0 488.8,269.8 489.3,270.4 489.9,270.6 490.4,270.3 491.0,269.7 491.5,269.2 492.1,269.1 492.6,269.6 493.2,270.3 493.7,271.0 494.3,271.1 494.8,270.8 495.4,270.2 495.9,269.7 496.5,269.7 497.0,270.1 497.6,270.9 498.1,271.5 498.7,271.7 499.2,271.3 499.8,270.7 500.3,270.2 500.9,270.2 501.4,270.7 502.0,271.4 502.5,272.0 503.1,272.2 503.6,271.9 504.2,271.3 504.7,270.8 505.3,270.7 505.8,271.2 506.4,272.0 506.9,272.6 507.5,272.8 508.0,272.4 508.6,271.8 509.1,271.3 509.7,271.3 510.2,271.8 510.8,272.5 511.3,273.1 511.9,273.3 512.4,273.0 513.0,272.3 513.5,271.9 514.1,271.8 514.6,272.3 515.2,273.0 515.7,273.7 516.3,273.8 516.8,273.5 517.4,272.9 517.9,272.4 518.5,272.3 519.0,272.8 519.6,273.5 520.1,274.1 520.7,274.3 521.2,273.9 521.8,273.3 522.3,272.8 522.9,272.8 523.4,273.3 524.0,274.0 524.5,274.6 525.1,274.8 525.6,274.4 526.2,273.8 526.7,273.3 527.3,273.3 527.8,273.7 528.4,274.5 528.9,275.1 529.5,275.2 530.0,274.9 530.6,274.3 531.1,273.8 531.7,273.7 532.2,274.2 532.8,274.9 533.3,275.6 533.9,275.7 534.4,275.3 535.0,274.7 535.5,274.2 536.1,274.2 536.6,274.7 537.2,275.4 537.7,276.0 538.3,276.2 538.8,275.8 539.4,275.2 539.9,274.7 540.5,274.7 541.0,275.1 541.6,275.9 542.1,276.5 542.7,276.6 543.2,276.3 543.8,275.6 544.3,275.2 544.9,275.1 545.4,275.6 546.0,276.4 546.5,277.0 547.1,277.1 547.6,276.7 548.2,276.1 548.7,275.6 549.3,275.6 549.8,276.1 550.4,276.8 550.9,277.4 551.5,277.6 552.0,277.2 552.6,276.6 553.1,276.1 553.7,276.1 554.2,276.5 554.8,277.3 555.3,277.9 555.9,278.0 556.4,277.7 557.0,277.0 557.5,276.6 558.1,276.5 558.6,277.0 559.2,277.8 559.7,278.4 560.3,278.5 560.8,278.2 561.4,277.6 561.9,277.1 562.5,277.2 563.0,277.7 563.6,278.5 564.1,279.1 564.7,279.3 565.2,278.9 565.8,278.3 566.3,277.9 566.9,277.9 567.4,278.4 568.0,279.2 568.5,279.8 569.1,280.0 569.6,279.7 570.2,279.1 570.7,278.6 571.3,278.7 571.8,279.2 572.4,280.0 572.9,280.6 573.5,280.8 574.0,280.4 574.6,279.8 575.1,279.4 575.7,279.4 576.3,279.9 576.8,280.7 577.4,281.3 577.9,281.5 578.5,281.2 579.0,280.6 579.6,280.1 580.1,280.1 580.7,280.6 581.2,281.4 581.8,282.0 582.3,282.1 582.9,281.7 583.4,281.1 584.0,280.6 584.5,280.6 585.1,281.1 585.6,281.8 586.2,282.4 586.7,282.5 587.3,282.1 587.8,281.5 588.4,281.0 588.9,281.0 589.5,281.5 590.0,282.2 590.6,282.8 591.1,282.9 591.7,282.6 592.2,281.9 592.8,281.4 593.3,281.4 593.9,281.9 594.4,282.7 595.0,283.3 595.5,283.4 596.1,283.0 596.6,282.4 597.2,281.9 597.7,281.9 598.3,282.4 598.8,283.1 599.4,283.7 599.9,283.8 600.5,283.4 601.0,282.8 601.6,282.3 602.1,282.3 602.7,282.8 603.2,283.5 603.8,284.1 604.3,284.2 604.9,283.8 605.4,283.2 606.0,282.7 606.5,282.7 607.1,283.2 607.6,284.0 608.2,284.5 608.7,284.7 609.3,284.3 609.8,283.6 610.4,283.2 610.9,283.2 611.5,283.7 612.0,284.4 612.6,285.0 613.1,285.1 613.7,284.7 614.2,284.1 614.8,283.6 615.3,283.6 615.9,284.1 616.4,284.8 617.0,285.4 617.5,285.5 618.1,285.1 618.6,284.5 619.2,284.0 619.7,284.0 620.3,284.5 620.8,285.3 621.4,285.8 621.9,285.9 622.5,285.5 623.0,284.9 623.6,284.4 624.1,284.4 624.7,284.9 625.2,285.7 625.8,286.3 626.3,286.4 626.9,286.0 627.4,285.3 628.0,284.9 628.5,284.9 629.1,285.4 629.6,286.1 630.2,286.7 630.7,286.8 631.3,286.4 631.8,285.8 632.4,285.3 632.9,285.3 633.5,285.8 634.0,286.6 634.6,287.1 635.1,287.2 635.7,286.8 636.2,286.2 636.8,285.7 637.3,285.7 637.9,286.2 638.4,287.0 639.0,287.6 639.5,287.7 640.1,287.3 640.6,286.6 641.2,286.2 641.7,286.2 642.3,286.7 642.8,287.4 643.4,288.0 643.9,288.1 644.5,287.7 645.0,287.0 645.6,286.6 646.1,286.6 646.7,287.1 647.2,287.8 647.8,288.4 648.3,288.5 648.9,288.1 649.4,287.5 650.0,287.0 650.5,287.0 651.1,287.5 651.6,288.3 652.2,288.8 652.7,288.9 653.3,288.5 653.8,287.9 654.4,287.4 654.9,287.5 655.5,288.0 656.0,288.7 656.6,289.3 657.1,289.4 657.7,289.0 658.2,288.3 658.8,287.9 659.3,287.9 659.9,288.4 660.4,289.1 661.0,289.7 661.5,289.8 662.1,289.4 662.6,288.8 663.2,288.3 663.7,288.3 664.3,288.8 664.8,289.6 665.4,290.1 665.9,290.2 666.5,289.8 667.0,289.2 667.6,288.7 668.1,288.7 668.7,289.3 669.2,290.0 669.8,290.6 670.3,290.7 670.9,290.2 671.4,289.6 672.0,289.2 672.5,289.2 673.1,289.7 673.6,290.4 674.2,291.0 674.7,291.1 675.3,290.7 675.8,290.0 676.4,289.6 676.9,289.6 677.5,290.1 678.0,290.9 678.6,291.4 679.1,291.5 679.7,291.1 680.2,290.5 680.8,290.0 681.3,290.0 681.9,290.6 682.4,291.3 683.0,291.9 683.5,292.0 684.1,291.6 684.6,290.9 685.2,290.5 685.7,290.5 686.3,291.0 686.8,291.8 687.4,292.3 687.9,292.4 688.5,292.0 689.0,291.4 689.6,290.9 690.1,291.0 690.7,291.5 691.3,292.2 691.8,292.8 692.4,292.9 692.9,292.5 693.5,291.8 694.0,291.4 694.6,291.4 695.1,292.0 695.7,292.7 696.2,293.3 696.8,293.3 697.3,292.9 697.9,292.3 698.4,291.9 699.0,291.9 699.5,292.4 700.1,293.2 700.6,293.7 701.2,293.8 701.7,293.4 702.3,292.8 702.8,292.3 703.4,292.4 703.9,292.9 704.5,293.6 705.0,294.2 705.6,294.3 706.1,293.9 706.7,293.2 707.2,292.8 707.8,292.8 708.3,293.4 708.9,294.1 709.4,294.7 710.0,294.7 710.5,294.3 711.1,293.7 711.6,293.2 712.2,293.3 712.7,293.8 713.3,294.6 713.8,295.1 714.4,295.2 714.9,294.8 715.5,294.1 716.0,293.7 716.6,293.7 717.1,294.3 717.7,295.0 718.2,295.6 718.8,295.6 719.3,295.2 719.9,294.6 720.4,294.2 721.0,294.2 721.5,294.7 722.1,295.5 722.6,296.0 723.2,296.1 723.7,295.7 724.3,295.1 724.8,294.6 725.4,294.7 725.9,295.2 726.5,296.0 727.0,296.5 727.6,296.6 728.1,296.1 728.7,295.5 729.2,295.1 729.8,295.1 730.3,295.7 730.9,296.4 731.4,297.0 732.0,297.0 732.5,296.6 733.1,296.0 733.6,295.5 734.2,295.6 734.7,296.1 735.3,296.9 735.8,297.4 736.4,297.5 736.9,297.1 737.5,296.4 738.0,296.0 738.6,296.1 739.1,296.6 739.7,297.3 740.2,297.9 740.8,297.9 741.3,297.5 741.9,296.9 742.4,296.5 743.0,296.5 743.5,297.1 744.1,297.8 744.6,298.4 745.2,298.4 745.7,298.0 746.3,297.3 746.8,296.9 747.4,297.0 747.9,297.5 748.5,298.3 749.0,298.8 749.6,298.9 750.1,298.4 750.7,297.8 751.2,297.4 751.8,297.4 752.3,298.0 752.9,298.7 753.4,299.3 754.0,299.3 754.5,298.9 755.1,298.3 755.6,297.8 756.2,297.9 756.7,298.4 757.3,299.2 757.8,299.7 758.4,299.8 758.9,299.4 759.5,298.7 760.0,298.3 760.6,298.4 761.1,298.9 761.7,299.7 762.2,300.2 762.8,300.2 763.3,299.8 763.9,299.2 764.4,298.8 765.0,298.8 765.5,299.4 766.1,300.1 766.6,300.7 767.2,300.7 767.7,300.3 768.3,299.6 768.8,299.2 769.4,299.3 769.9,299.8 770.5,300.6 771.0,301.1 771.6,301.2 772.1,300.7 772.7,300.1 773.2,299.7 773.8,299.7 774.3,300.3 774.9,301.0 775.4,301.6 776.0,301.6 776.5,301.2 777.1,300.6 777.6,300.1 778.2,300.2 778.7,300.8 779.3,301.5 779.8,302.0 780.4,302.1 780.9,301.6 781.5,301.0 782.0,300.6 782.6,300.7 783.1,301.2 783.7,302.0 784.2,302.5 784.8,302.5 785.3,302.1 785.9,301.5 786.4,301.1 787.0,301.1 787.5,301.7 788.1,302.4 788.6,303.0 789.2,303.0 789.7,302.6 790.3,301.9 790.8,301.5 791.4,301.6 791.9,302.2 792.5,302.9 793.0,303.4 793.6,303.5 794.1,303.0 794.7,302.4 795.2,302.0 795.8,302.1 796.3,302.6 796.9,303.4 797.4,303.9 798.0,303.9 798.5,303.5 799.1,302.9 799.6,302.4 800.2,302.5 800.7,303.1 801.3,303.8 801.8,304.4 802.4,304.4 802.9,303.9 803.5,303.3 804.0,302.9 804.6,303.0" fill="none" stroke="#333" stroke-width="0.8"/>
<line x1="348" y1="91.5" x2="512" y2="91.5" stroke="#b8741a" stroke-width="0.6" stroke-dasharray="15 8"/>
<line x1="228" y1="128.5" x2="613" y2="128.5" stroke="#a8681a" stroke-width="0.6"/>
<path d="M550 140.3 H560 M596 140.3 H609.5 M619 140.3 H635" stroke="#b8741a" stroke-width="0.6" fill="none"/>
<line x1="560" y1="202.5" x2="804" y2="202.5" stroke="#a8681a" stroke-width="0.6"/>
</g>
<line x1="168.5" y1="57.5" x2="168.5" y2="303.5" stroke="#333" stroke-width="0.9" stroke-dasharray="17 7.7" stroke-dashoffset="0"/>
<line x1="163.9" y1="303.5" x2="173.1" y2="303.5" stroke="#333" stroke-width="0.9"/>
<line x1="435.4" y1="69.0" x2="435.4" y2="252.0" stroke="#111" stroke-width="1.05" stroke-dasharray="15.5 8.8" stroke-dashoffset="0"/>
<line x1="430.8" y1="252.0" x2="440.0" y2="252.0" stroke="#111" stroke-width="0.9"/>
<line x1="679.5" y1="68.8" x2="679.5" y2="303.7" stroke="#333" stroke-width="0.9" stroke-dasharray="39.2 6.7 19.3 6.5 17.8 7.2 17.2 7.2 17.2 7.2 17.2 7.2 17.2 7.2 17.2 7.2" stroke-dashoffset="0"/>
<line x1="674.9" y1="303.7" x2="684.1" y2="303.7" stroke="#333" stroke-width="0.9"/>
<line x1="118.1" y1="60.4" x2="805.8" y2="60.4" stroke="#111" stroke-width="1.35"/>
<line x1="119.0" y1="59.8" x2="119.0" y2="366.5" stroke="#505050" stroke-width="1.8"/>
<line x1="804.8" y1="59.8" x2="804.8" y2="366" stroke="#2a2a2a" stroke-width="2"/>
<text x="113" y="65.7" text-anchor="end" font-size="16.6" font-family="'Liberation Serif','Noto Serif CJK SC',serif" fill="#1a1a1a">−900</text>
<line x1="119.0" y1="109.4" x2="128.0" y2="109.4" stroke="#222" stroke-width="1.4"/>
<line x1="796.1" y1="107.7" x2="804.9" y2="107.7" stroke="#222" stroke-width="1.4"/>
<text x="113" y="114.9" text-anchor="end" font-size="16.6" font-family="'Liberation Serif','Noto Serif CJK SC',serif" fill="#1a1a1a">−1 000</text>
<line x1="119.0" y1="158.5" x2="128.0" y2="158.5" stroke="#222" stroke-width="1.4"/>
<line x1="796.1" y1="157.3" x2="804.9" y2="157.3" stroke="#222" stroke-width="1.4"/>
<text x="113" y="164.0" text-anchor="end" font-size="16.6" font-family="'Liberation Serif','Noto Serif CJK SC',serif" fill="#1a1a1a">−1 100</text>
<line x1="119.0" y1="207.7" x2="128.0" y2="207.7" stroke="#222" stroke-width="1.4"/>
<line x1="796.1" y1="206.9" x2="804.9" y2="206.9" stroke="#222" stroke-width="1.4"/>
<text x="113" y="213.2" text-anchor="end" font-size="16.6" font-family="'Liberation Serif','Noto Serif CJK SC',serif" fill="#1a1a1a">−1 200</text>
<line x1="119.0" y1="256.8" x2="128.0" y2="256.8" stroke="#222" stroke-width="1.4"/>
<line x1="796.1" y1="256.4" x2="804.9" y2="256.4" stroke="#222" stroke-width="1.4"/>
<text x="113" y="262.3" text-anchor="end" font-size="16.6" font-family="'Liberation Serif','Noto Serif CJK SC',serif" fill="#1a1a1a">−1 300</text>
<line x1="119.0" y1="306.0" x2="128.0" y2="306.0" stroke="#222" stroke-width="1.4"/>
<line x1="796.1" y1="306.0" x2="804.9" y2="306.0" stroke="#222" stroke-width="1.4"/>
<text x="113" y="311.5" text-anchor="end" font-size="16.6" font-family="'Liberation Serif','Noto Serif CJK SC',serif" fill="#1a1a1a">−1 400</text>
<line x1="119.0" y1="355.2" x2="128.0" y2="355.2" stroke="#222" stroke-width="1.4"/>
<line x1="796.1" y1="355.6" x2="804.9" y2="355.6" stroke="#222" stroke-width="1.4"/>
<text x="113" y="360.7" text-anchor="end" font-size="16.6" font-family="'Liberation Serif','Noto Serif CJK SC',serif" fill="#1a1a1a">−1 500</text>
<text transform="translate(57.4,207) rotate(-90)" text-anchor="middle" font-size="16" letter-spacing="0.8" font-weight="500" font-family="'Liberation Serif','Noto Serif CJK SC',serif" fill="#1a1a1a">高程/m</text>
<text x="170.5" y="29" text-anchor="middle" font-size="17" font-family="'Liberation Serif','WenQuanYi Zen Hei',serif" fill="#1a1a1a">51℃</text>
<text x="155.8" y="52" font-size="16" font-family="'Liberation Serif','Noto Serif CJK SC',serif" fill="#1a1a1a">KT1</text>
<line x1="153.6" y1="52.6" x2="184.0" y2="52.6" stroke="#2a2a2a" stroke-width="0.9"/>
<line x1="161.2" y1="55.9" x2="175.8" y2="55.9" stroke="#555" stroke-width="0.9"/>
<path d="M168.6 52.6 V37.3 h6.2" fill="none" stroke="#333" stroke-width="0.8"/>
<path d="M174.2 38.9 q4 -4.2 6.2 -3.6 q2.2 -0.8 5 1.8" fill="none" stroke="#222" stroke-width="1"/>
<text x="437.5" y="29" text-anchor="middle" font-size="17" font-family="'Liberation Serif','WenQuanYi Zen Hei',serif" fill="#1a1a1a">51℃</text>
<text x="420.7" y="52" font-size="16" font-family="'Liberation Serif','Noto Serif CJK SC',serif" fill="#1a1a1a"><tspan font-size="15.3" font-weight="600">阳热</tspan><tspan font-size="16" dx="1.5" stroke="#1a1a1a" stroke-width="0.35">1</tspan></text>
<line x1="419.0" y1="52.6" x2="451.5" y2="52.6" stroke="#2a2a2a" stroke-width="0.9"/>
<line x1="428.5" y1="56.3" x2="442.4" y2="56.3" stroke="#555" stroke-width="0.9"/>
<path d="M435.8 52.6 V35.2 h6.2" fill="none" stroke="#333" stroke-width="0.8"/>
<path d="M441.4 36.8 q4 -4.2 6.2 -3.6 q2.2 -0.8 5 1.8" fill="none" stroke="#222" stroke-width="1"/>
<text x="680.8" y="29" text-anchor="middle" font-size="17" font-family="'Liberation Serif','WenQuanYi Zen Hei',serif" fill="#1a1a1a">51℃</text>
<text x="666.3" y="52" font-size="16" font-family="'Liberation Serif','Noto Serif CJK SC',serif" fill="#1a1a1a">DR1</text>
<line x1="663.8" y1="52.6" x2="695.8" y2="52.6" stroke="#2a2a2a" stroke-width="0.9"/>
<line x1="672.5" y1="57.2" x2="686.4" y2="57.2" stroke="#555" stroke-width="0.9"/>
<path d="M679.5 52.6 V36.0 h6.2" fill="none" stroke="#333" stroke-width="0.8"/>
<path d="M685.1 37.6 q4 -4.2 6.2 -3.6 q2.2 -0.8 5 1.8" fill="none" stroke="#222" stroke-width="1"/>
<text x="291.0" y="84.5" font-size="17.0" font-family="'Liberation Serif','Noto Serif CJK SC',serif" fill="#1a1a1a">N<tspan font-size="9.4" dy="3.2">2</tspan><tspan dy="-3.2" font-style="italic">m</tspan></text>
<text x="293.0" y="107.4" font-size="17.0" font-family="'Liberation Serif','Noto Serif CJK SC',serif" fill="#1a1a1a">N<tspan font-size="9.4" dy="3.2">1</tspan><tspan dy="-3.2" font-style="italic">g</tspan></text>
<text x="177.0" y="235.4" font-size="16.5" font-family="'Liberation Serif','Noto Serif CJK SC',serif" fill="#1a1a1a" stroke="#1a1a1a" stroke-width="0.45">N<tspan font-size="9.1" dy="3.2">1</tspan><tspan dy="-3.2" font-style="italic">g</tspan></text>
<text x="174.8" y="259.7" font-size="16.5" font-family="'Liberation Serif','Noto Serif CJK SC',serif" fill="#1a1a1a" stroke="#1a1a1a" stroke-width="0.45">E<tspan font-size="9.1" dy="3.2">3</tspan><tspan dy="-3.2" font-style="italic">d</tspan></text>
<text x="685.0" y="285.8" font-size="16.5" font-family="'Liberation Serif','Noto Serif CJK SC',serif" fill="#1a1a1a" stroke="#1a1a1a" stroke-width="0.45">N<tspan font-size="9.1" dy="3.2">1</tspan><tspan dy="-3.2" font-style="italic">g</tspan></text>
<text x="685.2" y="308.0" font-size="16.5" font-family="'Liberation Serif','Noto Serif CJK SC',serif" fill="#1a1a1a" stroke="#1a1a1a" stroke-width="0.45">E<tspan font-size="9.1" dy="3.2">3</tspan><tspan dy="-3.2" font-style="italic">d</tspan></text>
<path d="M420.4 347.5 V353.7 H519.5 V347.5 M470 347.5 V353.7" fill="none" stroke="#222" stroke-width="1.1"/>
<text x="420.4" y="342" text-anchor="middle" font-size="16.6" font-family="'Liberation Serif','Noto Serif CJK SC',serif" fill="#1a1a1a">0</text>
<text x="470" y="342" text-anchor="middle" font-size="16.6" font-family="'Liberation Serif','Noto Serif CJK SC',serif" fill="#1a1a1a">1</text>
<text x="512.5" y="342" font-size="16.6" font-family="'Liberation Serif','Noto Serif CJK SC',serif" fill="#1a1a1a">2 km</text>
<rect x="826.2" y="43.3" width="43.2" height="31.4" fill="#F4A125" stroke="#222" stroke-width="1.3"/>
<line x1="826.2" y1="58.4" x2="869.4" y2="58.4" stroke="#8a5a18" stroke-width="0.6"/>
<rect x="826.2" y="96.3" width="43.2" height="31.4" fill="#DEDEDE" stroke="#222" stroke-width="1.3"/>
<rect x="830.00" y="99.40" width="0.85" height="0.85" fill="#444"/><rect x="833.80" y="99.40" width="0.85" height="0.85" fill="#444"/><rect x="837.60" y="99.40" width="0.85" height="0.85" fill="#444"/>
<rect x="852.00" y="99.40" width="0.85" height="0.85" fill="#444"/><rect x="855.80" y="99.40" width="0.85" height="0.85" fill="#444"/><rect x="859.60" y="99.40" width="0.85" height="0.85" fill="#444"/>
<rect x="841.00" y="111.20" width="0.85" height="0.85" fill="#444"/><rect x="844.80" y="111.20" width="0.85" height="0.85" fill="#444"/><rect x="848.60" y="111.20" width="0.85" height="0.85" fill="#444"/>
<rect x="862.00" y="111.20" width="0.85" height="0.85" fill="#444"/><rect x="865.80" y="111.20" width="0.85" height="0.85" fill="#444"/><rect x="869.60" y="111.20" width="0.85" height="0.85" fill="#444"/>
<rect x="830.00" y="122.60" width="0.85" height="0.85" fill="#444"/><rect x="833.80" y="122.60" width="0.85" height="0.85" fill="#444"/><rect x="837.60" y="122.60" width="0.85" height="0.85" fill="#444"/>
<rect x="852.00" y="122.60" width="0.85" height="0.85" fill="#444"/><rect x="855.80" y="122.60" width="0.85" height="0.85" fill="#444"/><rect x="859.60" y="122.60" width="0.85" height="0.85" fill="#444"/>
<rect x="826.2" y="149.4" width="43.2" height="31.4" fill="#fff" stroke="#222" stroke-width="1.3"/>
<rect x="826.2" y="202.5" width="43.2" height="31.4" fill="#fff" stroke="#222" stroke-width="1.3"/>
<rect x="826.2" y="255.6" width="43.2" height="31.4" fill="#fff" stroke="#222" stroke-width="1.3"/>
<rect x="826.2" y="308.7" width="43.2" height="31.4" fill="#fff" stroke="#222" stroke-width="1.3"/>
<text x="836.5" y="170.3" font-size="14.5" font-family="'Liberation Serif','Noto Serif CJK SC',serif" fill="#1a1a1a">N<tspan font-size="8.0" dy="2.6">2</tspan><tspan dy="-2.6" font-style="italic">m</tspan></text>
<text x="837.8" y="223.3" font-size="14.5" font-family="'Liberation Serif','Noto Serif CJK SC',serif" fill="#1a1a1a">N<tspan font-size="8.0" dy="2.6">1</tspan><tspan dy="-2.6" font-style="italic">g</tspan></text>
<text x="838.0" y="276.4" font-size="14.5" font-family="'Liberation Serif','Noto Serif CJK SC',serif" fill="#1a1a1a">E<tspan font-size="8.0" dy="2.6">3</tspan><tspan dy="-2.6" font-style="italic">d</tspan></text>
<text x="877.3" y="64.5" font-family="'Liberation Serif','Noto Serif CJK SC',serif" font-size="15" letter-spacing="0.6" font-weight="500" fill="#1a1a1a">泥岩</text>
<text x="877.3" y="117.6" font-family="'Liberation Serif','Noto Serif CJK SC',serif" font-size="15" letter-spacing="0.6" font-weight="500" fill="#1a1a1a">砂岩</text>
<text x="877.3" y="170.7" font-family="'Liberation Serif','Noto Serif CJK SC',serif" font-size="15" letter-spacing="0.6" font-weight="500" fill="#1a1a1a">新近系明化镇组</text>
<text x="877.3" y="223.8" font-family="'Liberation Serif','Noto Serif CJK SC',serif" font-size="15" letter-spacing="0.6" font-weight="500" fill="#1a1a1a">新近系馆陶组</text>
<text x="877.3" y="276.9" font-family="'Liberation Serif','Noto Serif CJK SC',serif" font-size="15" letter-spacing="0.6" font-weight="500" fill="#1a1a1a">古近系东营组</text>
<text x="877.3" y="322.0" font-family="'Liberation Serif','Noto Serif CJK SC',serif" font-size="15" letter-spacing="0.6" font-weight="500" fill="#1a1a1a">地热井编号及</text>
<text x="877.3" y="337.5" font-family="'Liberation Serif','Noto Serif CJK SC',serif" font-size="15" letter-spacing="0.6" font-weight="500" fill="#1a1a1a">井口出水温度</text>
<text x="838.6" y="317.8" font-size="9.5" font-family="'Liberation Serif','WenQuanYi Zen Hei',serif" fill="#1a1a1a">51℃</text>
<text x="839" y="330" font-size="8" font-family="'Liberation Serif','Noto Serif CJK SC',serif" fill="#1a1a1a">阳热1</text>
<line x1="836.7" y1="332.5" x2="858" y2="332.5" stroke="#333" stroke-width="0.7"/>
<line x1="842" y1="335.6" x2="853" y2="335.6" stroke="#333" stroke-width="0.7"/>
<path d="M847.8 332.5 V319 h3 q3 -1.5 6 -0.5" fill="none" stroke="#333" stroke-width="0.6"/>
<text x="353.5" y="409" font-size="19.4" font-weight="bold" font-family="'Liberation Sans','Noto Sans CJK SC',sans-serif" fill="#111">图</text>
<text x="377.8" y="409.3" font-size="21.5" font-weight="bold" font-family="'Liberation Serif',serif" fill="#111">2</text>
<text x="409.3" y="409" font-size="19.4" font-weight="bold" letter-spacing="1.2" font-family="'Liberation Sans','Noto Sans CJK SC',sans-serif" fill="#111">研究区馆陶组地热地质剖面图</text>
<text x="238.5" y="438.2" font-size="16" font-family="'Liberation Serif','Noto Serif CJK SC',serif" fill="#111" stroke="#111" stroke-width="0.2" textLength="39.3" lengthAdjust="spacing">Fig. 2</text>
<text x="297.7" y="438.2" font-size="16" word-spacing="2" font-family="'Liberation Serif','Noto Serif CJK SC',serif" fill="#111" stroke="#111" stroke-width="0.2" textLength="493.8" lengthAdjust="spacing">Geothermal geological profile of Guantao Formation in the study area</text>
</svg>
</body></html>
